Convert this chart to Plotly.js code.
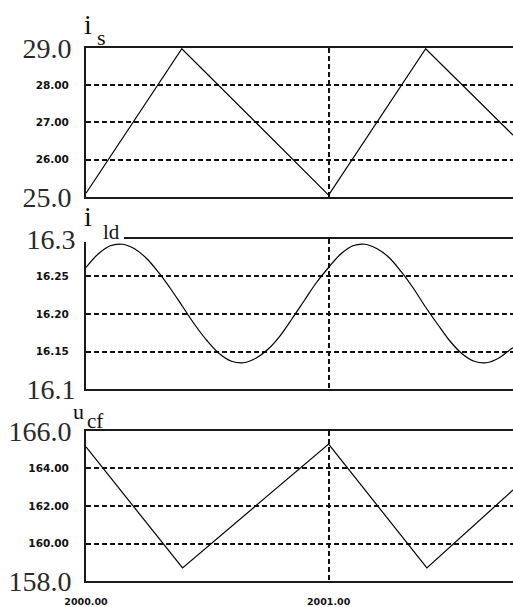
<!DOCTYPE html>
<html>
<head>
<meta charset="utf-8">
<script src="https://cdn.plot.ly/plotly-3.0.1.min.js"></script>
<style>html,body{margin:0;padding:0;background:#fff;}#chart{width:513px;height:607px;}</style>
</head>
<body>
<div id="chart"></div>
<script>
// ---- data ----
const isX = [2000.0, 2000.395, 2001.0, 2001.40, 2001.76];
const isY = [25.1, 28.98, 25.05, 28.98, 26.66];

const ildX = [2000.00, 2000.05, 2000.10, 2000.15, 2000.20, 2000.25, 2000.30, 2000.35, 2000.40, 2000.45,
              2000.50, 2000.55, 2000.60, 2000.65, 2000.70, 2000.75, 2000.80, 2000.85, 2000.90, 2000.95,
              2001.00, 2001.05, 2001.10, 2001.15, 2001.20, 2001.25, 2001.30, 2001.35, 2001.40, 2001.45,
              2001.50, 2001.55, 2001.60, 2001.65, 2001.70, 2001.75, 2001.76];
const ildY = [16.262, 16.280, 16.291, 16.293, 16.287, 16.274, 16.255, 16.233, 16.209, 16.185,
              16.164, 16.147, 16.137, 16.135, 16.141, 16.153, 16.171, 16.194, 16.218, 16.242,
              16.262, 16.280, 16.291, 16.293, 16.287, 16.275, 16.256, 16.234, 16.209, 16.186,
              16.164, 16.147, 16.137, 16.135, 16.141, 16.153, 16.155];

const ucfX = [2000.0, 2000.398, 2001.0, 2001.405, 2001.76];
const ucfY = [165.15, 158.7, 165.3, 158.7, 162.85];

const xRange = [2000, 2001.76];
const xTicks = [2000, 2001];
const xTickText = ["2000.00", "2001.00"];

const isRange = [25, 29];
const isMinorTicks = [26, 27, 28];
const isMinorText = ["26.00", "27.00", "28.00"];
const isMajorTicks = [25, 29];
const isMajorText = ["25.0", "29.0"];

const ildRange = [16.1, 16.3];
const ildMinorTicks = [16.15, 16.20, 16.25];
const ildMinorText = ["16.15", "16.20", "16.25"];
const ildMajorTicks = [16.1, 16.3];
const ildMajorText = ["16.1", "16.3"];

const ucfRange = [158, 166];
const ucfMinorTicks = [160, 162, 164];
const ucfMinorText = ["160.00", "162.00", "164.00"];
const ucfMajorTicks = [158, 166];
const ucfMajorText = ["158.0", "166.0"];

// ---- styles ----
const LINE = {color: '#000', width: 1.2};
const BORDER = '#1a1a1a';
const smallFont = {family: 'DejaVu Sans', size: 10.5, color: '#111', weight: 'bold'};
const bigFont = {family: 'Liberation Serif', size: 28, color: '#2a2a2a'};

function xAxis(anchor, showLabels) {
  return {
    anchor: anchor, domain: [0, 1], range: xRange, fixedrange: true,
    tickmode: 'array', tickvals: xTicks, ticktext: xTickText,
    showticklabels: showLabels, ticks: showLabels ? 'outside' : '', ticklen: 11,
    tickcolor: 'rgba(0,0,0,0)',
    tickfont: {family: 'DejaVu Sans', size: 9.5, color: '#111', weight: 'bold'},
    showgrid: true, gridcolor: '#111', gridwidth: 2, griddash: '5px,3px',
    showline: true, mirror: true, linecolor: BORDER, linewidth: 2,
    zeroline: false
  };
}
function ySmall(anchor, domain, range, vals, text) {
  return {
    anchor: anchor, domain: domain, range: range, fixedrange: true,
    tickmode: 'array', tickvals: vals, ticktext: text,
    ticks: 'outside', ticklen: 13, tickcolor: 'rgba(0,0,0,0)',
    tickfont: smallFont,
    showgrid: true, gridcolor: '#111', gridwidth: 2, griddash: '5px,3px',
    showline: true, linecolor: BORDER, linewidth: 2, zeroline: false
  };
}
function yBig(anchor, overlay, range, vals, text, len) {
  return {
    anchor: anchor, overlaying: overlay, side: 'left', range: range, fixedrange: true,
    tickmode: 'array', tickvals: vals, ticktext: text,
    ticks: 'outside', ticklen: len, tickcolor: 'rgba(0,0,0,0)',
    tickfont: bigFont, showgrid: false, showline: false, zeroline: false
  };
}

const d1 = [0.6755, 0.9209], d2 = [0.3591, 0.6063], d3 = [0.0428, 0.2900];

const traces = [
  {x: isX, y: isY, xaxis: 'x', yaxis: 'y', mode: 'lines', line: LINE, hoverinfo: 'skip'},
  {x: ildX, y: ildY, xaxis: 'x2', yaxis: 'y3', mode: 'lines', line: Object.assign({shape: 'spline'}, LINE), hoverinfo: 'skip'},
  {x: ucfX, y: ucfY, xaxis: 'x3', yaxis: 'y5', mode: 'lines', line: LINE, hoverinfo: 'skip'},
  // invisible traces so the overlay axes draw
  {x: [xRange[0]], y: [isRange[0]], xaxis: 'x', yaxis: 'y2', mode: 'markers', marker: {opacity: 0}, hoverinfo: 'skip'},
  {x: [xRange[0]], y: [ildRange[0]], xaxis: 'x2', yaxis: 'y4', mode: 'markers', marker: {opacity: 0}, hoverinfo: 'skip'},
  {x: [xRange[0]], y: [ucfRange[0]], xaxis: 'x3', yaxis: 'y6', mode: 'markers', marker: {opacity: 0}, hoverinfo: 'skip'}
];

function ann(text, x, y, size) {
  return {text: text, xref: 'paper', yref: 'paper', x: x, y: y, xanchor: 'center', yanchor: 'middle',
          showarrow: false, font: {family: 'Liberation Serif', size: size, color: '#111'}};
}

const layout = {
  width: 513, height: 607,
  margin: {l: 86, r: 0, t: 0, b: 0},
  paper_bgcolor: '#fff', plot_bgcolor: '#fff',
  showlegend: false,
  xaxis: xAxis('y', false),
  xaxis2: xAxis('y3', false),
  xaxis3: xAxis('y5', true),
  yaxis: ySmall('x', d1, isRange, isMinorTicks, isMinorText),
  yaxis2: yBig('x', 'y', isRange, isMajorTicks, isMajorText, 8),
  yaxis3: ySmall('x2', d2, ildRange, ildMinorTicks, ildMinorText),
  yaxis4: yBig('x2', 'y3', ildRange, ildMajorTicks, ildMajorText, 4),
  yaxis5: ySmall('x3', d3, ucfRange, ucfMinorTicks, ucfMinorText),
  yaxis6: yBig('x3', 'y5', ucfRange, ucfMajorTicks, ucfMajorText, 8),
  shapes: [
    {type: 'rect', xref: 'paper', yref: 'paper', x0: -0.006, x1: 0.089, y0: 0.6012, y1: 0.6112,
     fillcolor: '#fff', line: {width: 0}, layer: 'above'}
  ],
  annotations: [
    ann('i', 0.0047, 0.9595, 28),
    ann('s', 0.0363, 0.9390, 22),
    ann('i', 0.0047, 0.6430, 28),
    ann('ld', 0.0597, 0.6178, 21),
    ann('u', -0.0164, 0.3223, 22),
    ann('cf', 0.0211, 0.3064, 21)
  ]
};

Plotly.newPlot('chart', traces, layout, {staticPlot: true, displayModeBar: false});
</script>
</body>
</html>
